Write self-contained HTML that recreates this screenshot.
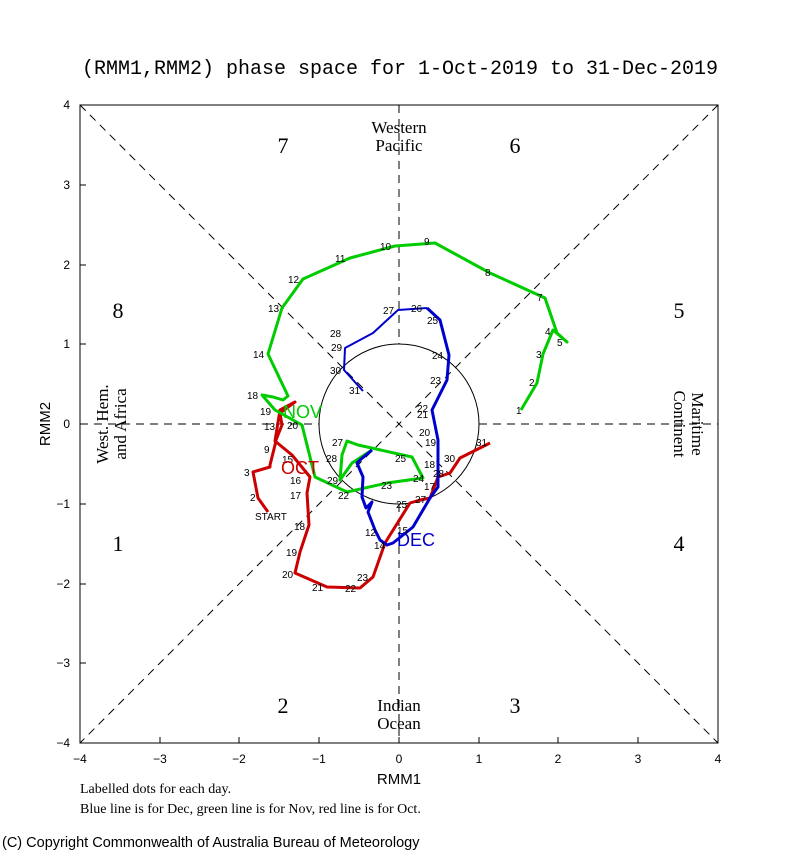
<!DOCTYPE html>
<html><head><meta charset="utf-8"><style>
body{margin:0;background:#fff}
svg{display:block}
</style></head><body>
<svg width="800" height="850" viewBox="0 0 800 850" xmlns="http://www.w3.org/2000/svg">
<rect width="800" height="850" fill="#fff"/>
<text x="400" y="74" text-anchor="middle" font-family="Liberation Mono, monospace" font-size="20" fill="#000">(RMM1,RMM2) phase space for  1-Oct-2019 to 31-Dec-2019</text>
<g stroke="#000" stroke-width="1" fill="none">
<rect x="80" y="105" width="638" height="638"/>
<g stroke-dasharray="8,6">
<line x1="80" y1="105" x2="718" y2="743"/>
<line x1="718" y1="105" x2="80" y2="743"/>
<line x1="399" y1="105" x2="399" y2="344"/>
<line x1="399" y1="504" x2="399" y2="743"/>
<line x1="80" y1="424" x2="319" y2="424"/>
<line x1="479" y1="424" x2="718" y2="424"/>
</g>
<circle cx="399" cy="424" r="80"/>
<g>
<line x1="80" y1="743" x2="80" y2="737"/><line x1="160" y1="743" x2="160" y2="737"/><line x1="239" y1="743" x2="239" y2="737"/><line x1="319" y1="743" x2="319" y2="737"/><line x1="399" y1="743" x2="399" y2="737"/><line x1="479" y1="743" x2="479" y2="737"/><line x1="558" y1="743" x2="558" y2="737"/><line x1="638" y1="743" x2="638" y2="737"/>
<line x1="80" y1="185" x2="86" y2="185"/><line x1="80" y1="265" x2="86" y2="265"/><line x1="80" y1="344" x2="86" y2="344"/><line x1="80" y1="424" x2="86" y2="424"/><line x1="80" y1="504" x2="86" y2="504"/><line x1="80" y1="584" x2="86" y2="584"/><line x1="80" y1="663" x2="86" y2="663"/>
</g>
</g>
<g font-family="Liberation Sans, sans-serif" font-size="12" fill="#000" text-anchor="middle">
<text x="80" y="763">−4</text><text x="160" y="763">−3</text><text x="239" y="763">−2</text><text x="319" y="763">−1</text><text x="399" y="763">0</text><text x="479" y="763">1</text><text x="558" y="763">2</text><text x="638" y="763">3</text><text x="718" y="763">4</text>
</g>
<g font-family="Liberation Sans, sans-serif" font-size="12" fill="#000" text-anchor="end">
<text x="70" y="109">4</text><text x="70" y="189">3</text><text x="70" y="269">2</text><text x="70" y="348">1</text><text x="70" y="428">0</text><text x="70" y="508">−1</text><text x="70" y="588">−2</text><text x="70" y="667">−3</text><text x="70" y="747">−4</text>
</g>
<text x="399" y="784" text-anchor="middle" font-family="Liberation Sans, sans-serif" font-size="15">RMM1</text>
<text transform="translate(50,424) rotate(-90)" text-anchor="middle" font-family="Liberation Sans, sans-serif" font-size="15">RMM2</text>
<g font-family="Liberation Serif, serif" font-size="22" text-anchor="middle" fill="#000">
<text x="283" y="153">7</text><text x="515" y="153">6</text><text x="118" y="318">8</text><text x="679" y="318">5</text>
<text x="118" y="551">1</text><text x="679" y="551">4</text><text x="283" y="713">2</text><text x="515" y="713">3</text>
</g>
<g font-family="Liberation Serif, serif" font-size="17" text-anchor="middle" fill="#000">
<text x="399" y="133">Western</text><text x="399" y="151">Pacific</text>
<text x="399" y="711">Indian</text><text x="399" y="729">Ocean</text>
<text transform="translate(108,424) rotate(-90)">West. Hem.</text>
<text transform="translate(126,424) rotate(-90)">and Africa</text>
<text transform="translate(692,424) rotate(90)">Maritime</text>
<text transform="translate(674,424) rotate(90)">Continent</text>
</g>
<g fill="none" stroke-width="3" stroke-linejoin="round">
<polyline stroke="#cc0000" points="268,512 258,498 253,472 270,467 270,465 273,453 275,445 276,440 282,425 280,413 295,402 280,410 275,441 292,455 310,477 307,493 309,525 300,552 295,573 327,587 360,588 373,577 385,543 410,503 420,500 430,498 438,477 450,473 460,458 490,443"/>
<polyline stroke="#00cc00" points="521,410 537,383 543,354 553,330 567,342 557,333 545,298 490,273 435,243 395,246 350,258 303,279 282,308 268,354 288,396 283,400 273,397 262,395 275,410 302,425 315,477 347,492 387,483 423,478 412,457 358,445 347,441 342,455 340,480 352,463 372,450"/>
<polyline stroke="#0000cc" points="372,450 360,460 357,463 363,477 362,497 366,508 372,502 368,512 375,530 380,540 387,545 393,543 413,527 430,498 438,487 438,467 438,440 432,410 447,380 449,355 440,320 427,308"/>
<polyline stroke="#0000cc" stroke-width="2" points="427,308 398,310 373,333 345,348 344,370 363,391"/>
</g>
<g font-family="Liberation Sans, sans-serif" font-size="10" fill="#000">
<text x="380" y="250">10</text><text x="424" y="245">9</text><text x="485" y="276">8</text><text x="537" y="301">7</text><text x="545" y="335">4</text><text x="557" y="346">5</text><text x="536" y="358">3</text><text x="529" y="386">2</text><text x="516" y="414">1</text>
<text x="335" y="262">11</text><text x="288" y="283">12</text><text x="268" y="312">13</text><text x="253" y="358">14</text><text x="247" y="399">18</text><text x="260" y="415">19</text><text x="287" y="429">20</text>
<text x="332" y="446">27</text><text x="326" y="462">28</text><text x="327" y="484">29</text><text x="338" y="499">22</text><text x="381" y="489">23</text><text x="413" y="482">24</text><text x="395" y="462">25</text>
<text x="383" y="314">27</text><text x="411" y="312">26</text><text x="427" y="324">25</text><text x="432" y="359">24</text><text x="430" y="384">23</text><text x="330" y="337">28</text><text x="331" y="351">29</text><text x="330" y="374">30</text><text x="349" y="394">31</text>
<text x="417" y="412">22</text><text x="417" y="418">21</text><text x="419" y="436">20</text><text x="425" y="446">19</text><text x="424" y="468">18</text><text x="424" y="490">17</text><text x="476" y="446">31</text><text x="444" y="462">30</text><text x="433" y="477">28</text>
<text x="244" y="476">3</text><text x="250" y="501">2</text><text x="255" y="520">START</text><text x="282" y="463">15</text><text x="290" y="484">16</text><text x="290" y="499">17</text><text x="294" y="530">18</text><text x="286" y="556">19</text><text x="282" y="578">20</text><text x="312" y="591">21</text><text x="345" y="592">22</text><text x="357" y="581">23</text>
<text x="365" y="536">12</text><text x="374" y="549">14</text><text x="397" y="534">15</text><text x="396" y="508">25</text><text x="415" y="503">27</text><text x="264" y="430">13</text><text x="264" y="453">9</text>
</g>
<g font-family="Liberation Sans, sans-serif" font-size="18">
<text x="281" y="474" fill="#cc0000">OCT</text>
<text x="283" y="418" fill="#00cc00">NOV</text>
<text x="397" y="546" fill="#0000cc">DEC</text>
</g>
<g font-family="Liberation Serif, serif" font-size="14" fill="#000">
<text x="80" y="793">Labelled dots for each day.</text>
<text x="80" y="813">Blue line is for Dec, green line is for Nov, red line is for Oct.</text>
</g>
<text x="2" y="847" font-family="Liberation Sans, sans-serif" font-size="14.5" fill="#000">(C) Copyright Commonwealth of Australia Bureau of Meteorology</text>
</svg>
</body></html>
